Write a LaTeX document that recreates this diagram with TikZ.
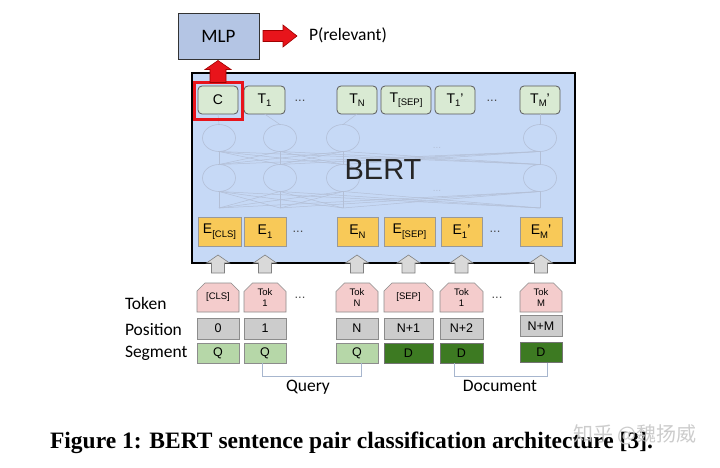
\documentclass[tikz,border=0pt]{standalone}
\usepackage{fontspec}
\setmainfont{Liberation Sans}
\newfontfamily\carl{Carlito}
\newfontfamily\capfont{Liberation Serif}
\newfontfamily\cjkfont{Noto Sans CJK SC}
\usetikzlibrary{shapes.misc,shapes.geometric}
\newcommand\lsub[1]{\raisebox{-3.5pt}{\fontsize{9.5}{10}\selectfont #1}}
\definecolor{mlpfill}{HTML}{B4C5E4}
\definecolor{bertfill}{HTML}{C6D9F6}
\definecolor{tfill}{HTML}{D9EAD3}
\definecolor{efill}{HTML}{F8C958}
\definecolor{kfill}{HTML}{F4CCCC}
\definecolor{pfill}{HTML}{CCCCCC}
\definecolor{qfill}{HTML}{B6D7A8}
\definecolor{dfill}{HTML}{3D7A22}
\definecolor{nnc}{HTML}{B3BFD6}
\definecolor{brk}{HTML}{A7B6CE}
\definecolor{redf}{HTML}{E8141B}
\definecolor{redd}{HTML}{A00000}
\tikzset{
  every node/.style={inner sep=0pt, outer sep=0pt},
  tbox/.style={draw=black!65, fill=tfill, rounded corners=4pt, line width=0.8pt,
    minimum height=28pt, font=\fontsize{14}{16}\selectfont},
  ebox/.style={draw=black!40, fill=efill, line width=0.6pt,
    minimum height=29pt, font=\fontsize{14}{16}\selectfont},
  kbox/.style={draw=black!45, fill=kfill, line width=0.6pt, chamfered rectangle,
    chamfered rectangle corners={north west, north east}, chamfered rectangle xsep=5pt,
    minimum height=29pt, align=center, font=\fontsize{9.5}{10.5}\selectfont},
  pbox/.style={draw=black!45, fill=pfill, line width=0.6pt,
    minimum height=21pt, font=\fontsize{12.5}{14}\selectfont},
  qbox/.style={draw=black!45, fill=qfill, line width=0.6pt,
    minimum height=20pt, font=\fontsize{12.5}{14}\selectfont},
  dbox/.style={draw=black!55, fill=dfill, line width=0.6pt,
    minimum height=20pt, font=\fontsize{12.5}{14}\selectfont},
  dots/.style={font=\fontsize{13}{14}\selectfont, text=black!70},
  rowlabel/.style={anchor=west, font=\carl\fontsize{17.5}{19}\selectfont},
  nn/.style={draw=nnc, ellipse, minimum width=33pt, minimum height=27pt, line width=0.6pt},
  nnline/.style={draw=nnc, line width=0.5pt},
  grayup/.pic={\draw[fill=black!15, draw=black!50, line width=0.6pt]
     (-6.5,0) -- (-6.5,-10) -- (-11.5,-10) -- (0,-18) -- (11.5,-10) -- (6.5,-10) -- (6.5,0) -- cycle;},
  redup/.pic={\draw[fill=redf, draw=redd, line width=0.6pt]
     (-8,0) -- (-8,-13) -- (-13,-13) -- (0,-22) -- (13,-13) -- (8,-13) -- (8,0) -- cycle;},
  redright/.pic={\draw[fill=redf, draw=redd, line width=0.6pt]
     (0,-5.5) -- (20,-5.5) -- (20,-11) -- (34,0) -- (20,11) -- (20,5.5) -- (0,5.5) -- cycle;},
}
\begin{document}
\begin{tikzpicture}[x=1pt,y=-1pt]
\fill[white] (0,0) rectangle (720,468);
\useasboundingbox (0,0) rectangle (720,468);

% MLP
\node[draw=black!80, fill=mlpfill, line width=0.8pt, minimum width=81pt, minimum height=46pt,
  font=\carl\fontsize{19}{22}\selectfont] (mlp) at (218.5,36) {MLP};
\pic at ([xshift=4pt]mlp.east) {redright};
\node[anchor=west, font=\carl\fontsize{17.5}{20}\selectfont] (prel) at (309,35) {P(relevant)};

% BERT box
\node[draw=black, fill=bertfill, line width=1.6pt, minimum width=383pt, minimum height=190pt] (bert) at (383.5,168) {};

% neural net
\foreach \x [count=\i] in {219,280,343,540} {
  \node[nn] (u\i) at (\x,138) {};
  \node[nn] (l\i) at (\x,178) {};
  \coordinate (b\i) at (\x,208);
}
\foreach \i in {1,...,4} {
  \foreach \j in {1,...,4} {
    \draw[nnline] (l\i.north) -- (u\j.south);
    \draw[nnline] (b\i) -- (l\j.south);
  }
}
\node[font=\fontsize{10}{12}\selectfont, text=nnc] (nd1) at (437,148) {...};
\node[font=\fontsize{10}{12}\selectfont, text=nnc] (nd2) at (437,191) {...};
\node[font=\fontsize{29}{32}\selectfont, text=black!85] (berttxt) at (383,170) {BERT};

% T boxes
\node[tbox, minimum width=40pt] (t0) at (218,100) {C};
\node[tbox, minimum width=41pt] (t1) at (264.5,100) {T\lsub{1}};
\node[dots] (td1) at (300,101) {...};
\node[tbox, minimum width=40pt] (tn) at (357,100) {T\lsub{N}};
\node[tbox, minimum width=50pt] (ts) at (406,100) {T\lsub{[SEP]}};
\node[tbox, minimum width=40pt] (tp1) at (455,100) {T\lsub{1}'};
\node[dots] (td2) at (492,101) {...};
\node[tbox, minimum width=40pt] (tm) at (540,100) {T\lsub{M}'};
\draw[nnline] (u1.north) -- (t0.south);
\draw[nnline] (u2.north) -- (t1.south);
\draw[nnline] (u3.north) -- (tn.south);
\draw[nnline] (u4.north) -- (tm.south);

% red highlight on C
\node[draw=redf, line width=3pt, minimum width=48pt, minimum height=37pt] (cbox) at (218,101) {};
\pic at (cbox.north) {redup};

% E boxes
\node[ebox, minimum width=43pt] (e0) at (219.5,231.5) {E\lsub{[CLS]}};
\node[ebox, minimum width=42pt] (e1) at (265,231.5) {E\lsub{1}};
\node[dots] (ed1) at (298,232) {...};
\node[ebox, minimum width=41pt] (en) at (357.5,231.5) {E\lsub{N}};
\node[ebox, minimum width=51pt] (es) at (409.5,231.5) {E\lsub{[SEP]}};
\node[ebox, minimum width=41pt] (ep1) at (461.5,231.5) {E\lsub{1}'};
\node[dots] (ed2) at (495,232) {...};
\node[ebox, minimum width=42pt] (em) at (541,231.5) {E\lsub{M}'};

% row labels
\node[rowlabel] (lt) at (125,303) {Token};
\node[rowlabel] (lp) at (125,330) {Position};
\node[rowlabel] (ls) at (125,353) {Segment};

% token boxes
\node[kbox, minimum width=42pt] (k0) at (218,297.5) {[CLS]};
\node[kbox, minimum width=42pt] (k1) at (265,297.5) {Tok\\1};
\node[dots] (kd1) at (300,298) {...};
\node[kbox, minimum width=42pt] (kn) at (357,297.5) {Tok\\N};
\node[kbox, minimum width=49pt] (ks) at (408.5,297.5) {[SEP]};
\node[kbox, minimum width=43pt] (kp1) at (461.5,297.5) {Tok\\1};
\node[dots] (kd2) at (497,298) {...};
\node[kbox, minimum width=42pt] (km) at (541,297.5) {Tok\\M};

\foreach \k in {k0,k1,kn,ks,kp1,km} { \pic at ([yshift=10pt]\k.north) {grayup}; }

% position boxes
\node[pbox, minimum width=42pt] (p0) at (218,328.5) {0};
\node[pbox, minimum width=42pt] (p1) at (265,328.5) {1};
\node[pbox, minimum width=42pt] (pn) at (357,328.5) {N};
\node[pbox, minimum width=49pt] (ps) at (408.5,328.5) {N+1};
\node[pbox, minimum width=43pt] (pp1) at (461.5,328.5) {N+2};
\node[pbox, minimum width=42pt] (pm) at (541,326) {N+M};

% segment boxes
\node[qbox, minimum width=42pt] (s0) at (218,353) {Q};
\node[qbox, minimum width=42pt] (s1) at (265,353) {Q};
\node[qbox, minimum width=42pt] (sn) at (357,353) {Q};
\node[dbox, minimum width=49pt] (ss) at (408.5,353) {D};
\node[dbox, minimum width=43pt] (sp1) at (461.5,353) {D};
\node[dbox, minimum width=42pt] (sm) at (541,352) {D};

% brackets
\draw[brk, line width=0.8pt] ([xshift=-3pt]s1.south) -- ++(0,13) -| ([xshift=4pt]sn.south);
\draw[brk, line width=0.8pt] ([xshift=-7.5pt]sp1.south) -- ++(0,13) -| ([xshift=6pt]sm.south|-sp1.south);
\node[font=\carl\fontsize{17.5}{20}\selectfont] (q) at (308,387) {Query};
\node[font=\carl\fontsize{17.5}{20}\selectfont] (d) at (500,386) {Document};

% caption
\node[anchor=base, font=\capfont\bfseries\fontsize{23.5}{26}\selectfont] (cap) at (351.5,448)
  {Figure 1: BERT sentence pair classification architecture [3].};
\node[font=\cjkfont\fontsize{20}{24}\selectfont, text=black!22, opacity=0.9] (wm) at (635,435) {知乎 @魏扬威};
\end{tikzpicture}
\end{document}
